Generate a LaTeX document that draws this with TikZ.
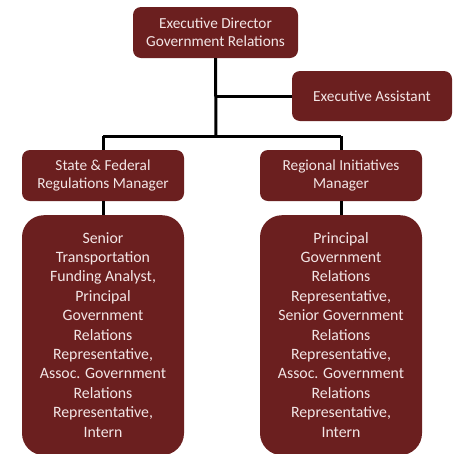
\documentclass[tikz,border=0pt]{standalone}
\usepackage{fontspec}
\setmainfont{Carlito}
\definecolor{maroon}{HTML}{6B1F1F}
\definecolor{boxtext}{HTML}{F3E6E6}
\begin{document}
\begin{tikzpicture}[x=1pt,y=-1pt,
  box/.style={draw=none,fill=maroon,text=boxtext,rounded corners=8pt,align=center,
    font=\fontsize{15.3}{18}\selectfont,inner sep=0pt},
  bigbox/.style={box,rounded corners=22pt},
  boxlist/.style={align=center,text=boxtext,font=\fontsize{15.8}{19.4}\selectfont,anchor=north,inner sep=0pt},
  conn/.style={line width=3pt,black}]
\useasboundingbox (0,0) rectangle (454,453);
\coordinate (j) at (216,136);
\coordinate (jl) at (103,136);
\coordinate (jr) at (341,136);
\coordinate (ja) at (216,96);
\node[box,minimum width=165pt,minimum height=51pt] (ed) at (215.5,32.5) {Executive Director\\Government Relations};
\node[box,minimum width=160pt,minimum height=50pt] (ea) at (372,96) {Executive Assistant};
\node[box,minimum width=162pt,minimum height=51pt] (sf) at (103,175.5) {State \& Federal\\Regulations Manager};
\node[box,minimum width=162pt,minimum height=51pt] (ri) at (341,175.5) {Regional Initiatives\\Manager};
\node[bigbox,minimum width=162pt,minimum height=240pt,anchor=north] (sb) at (103,215) {};
\node[bigbox,minimum width=162pt,minimum height=240pt,anchor=north] (rb) at (341,215) {};
\node[boxlist] (sbt) at (103,232) {Senior\\Transportation\\Funding Analyst,\\Principal\\Government\\Relations\\Representative,\\Assoc. Government\\Relations\\Representative,\\Intern};
\node[boxlist] (rbt) at (341,232) {Principal\\Government\\Relations\\Representative,\\Senior Government\\Relations\\Representative,\\Assoc. Government\\Relations\\Representative,\\Intern};
\draw[conn] (ed.south) -- (j);
\draw[conn] (ja) -- (ea.west);
\draw[conn] (jl) -- (jr);
\draw[conn] (jl) -- (sf.north);
\draw[conn] (jr) -- (ri.north);
\draw[conn] (sf.south) -- (sb.north);
\draw[conn] (ri.south) -- (rb.north);
\end{tikzpicture}
\end{document}
